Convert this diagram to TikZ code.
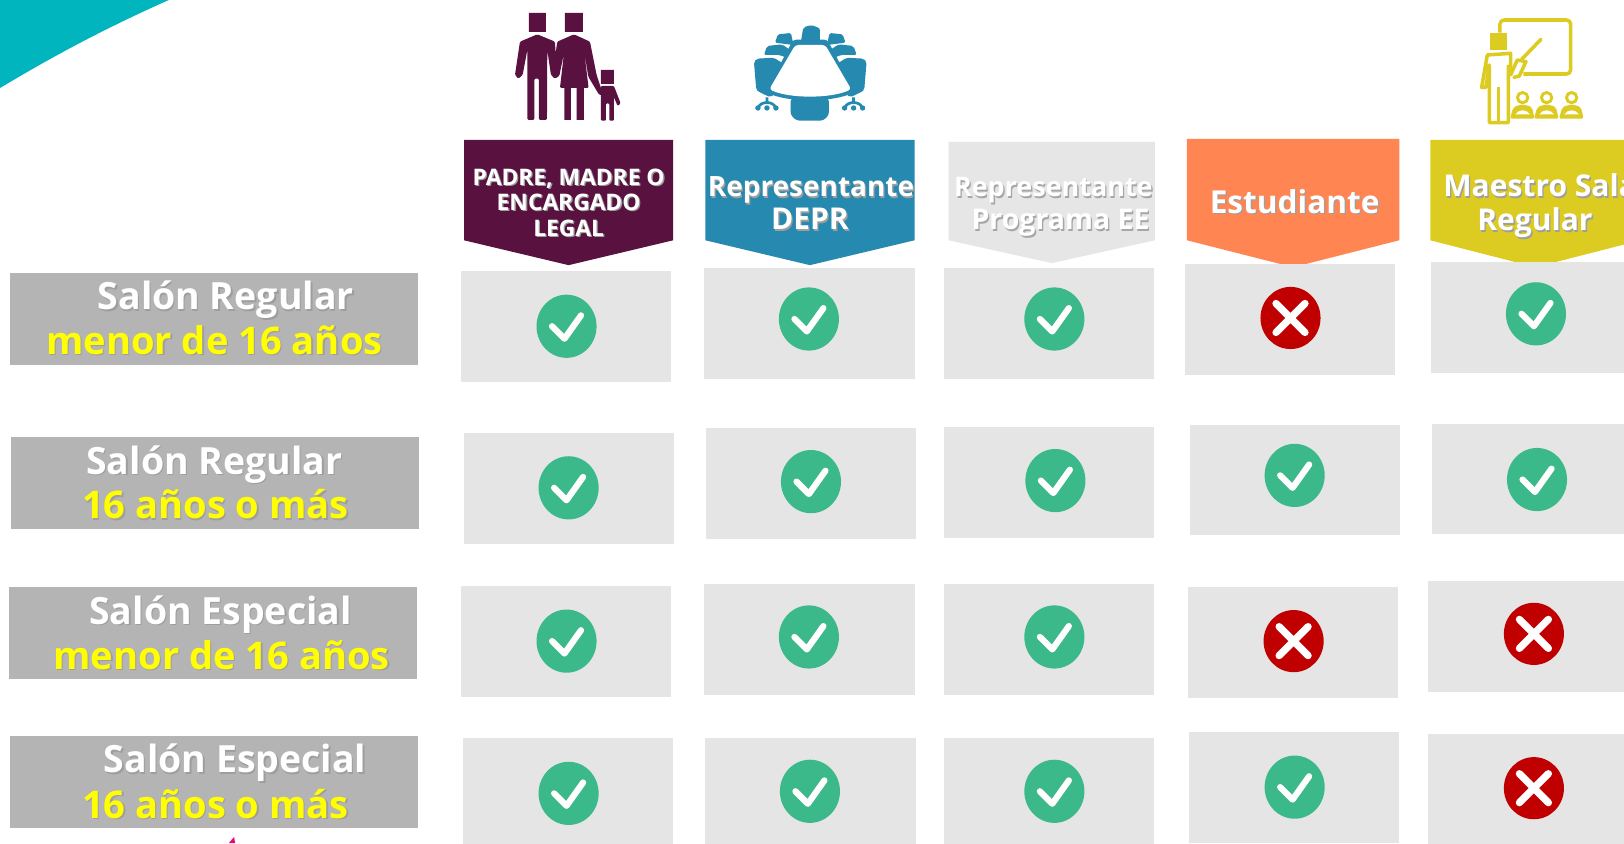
\documentclass[tikz,border=0pt]{standalone}
\usepackage{fontspec}
\setmainfont{Open Sans}
\definecolor{cellg}{HTML}{E5E5E5}
\definecolor{labg}{HTML}{B4B4B4}
\definecolor{okg}{HTML}{3CB98A}
\definecolor{nored}{HTML}{C00000}
\definecolor{plum}{HTML}{591140}
\definecolor{teald}{HTML}{2689AF}
\definecolor{orng}{HTML}{FF8552}
\definecolor{mustard}{HTML}{DCCB21}
\definecolor{hdrg}{HTML}{E6E6E6}
\definecolor{corner}{HTML}{00B5BD}
\definecolor{yel}{HTML}{FFFF00}
\newcommand{\sh}[2][black!38]{\leavevmode\rlap{\kern1.3pt\raisebox{-1.3pt}{\color{#1}#2}}#2}
\newcommand{\cell}[5]{\path[fill=cellg] (#2,#3) rectangle (#4,#5);}
\newcommand{\okmark}[3]{\node[okdot] (#1) at (#2,#3) {};
  \draw[white,line width=6pt,line cap=round,line join=round] ($(#1)+(-14,0)$) -- ($(#1)+(-2,12)$) -- ($(#1)+(14,-10.5)$);}
\newcommand{\nomark}[3]{\node[nodot] (#1) at (#2,#3) {};
  \draw[white,line width=7pt,line cap=round] ($(#1)+(-14,-14)$) -- ($(#1)+(14,14)$) ($(#1)+(-14,14)$) -- ($(#1)+(14,-14)$);}
\newcommand{\hdr}[5]{\path[fill=#1] (#2,#3) -- (#4,#3) -- (#4,232) -- ({(#2+#4)/2},#5) -- (#2,232) -- cycle;}
\usetikzlibrary{calc}
\usetikzlibrary{shapes.geometric}
\tikzset{
  okdot/.style={ellipse,fill=okg,minimum width=58pt,minimum height=61pt,inner sep=0pt},
  nodot/.style={ellipse,fill=nored,minimum width=58pt,minimum height=60pt,inner sep=0pt},
  hd/.style={inner sep=0pt,text=white,font=\bfseries\fontsize{29}{29}\selectfont,anchor=base},
  hdsm/.style={inner sep=0pt,text=white,font=\bfseries\fontsize{22}{22}\selectfont,anchor=base},
  labw/.style={inner sep=0pt,text=white,font=\bfseries\fontsize{36.2}{36}\selectfont,anchor=base},
  laby/.style={inner sep=0pt,text=yel,font=\bfseries\fontsize{36.8}{36}\selectfont,anchor=base},
  icz/.style={x=0.3218pt,y=-0.3218pt},
}
\begin{document}
\begin{tikzpicture}[x=1pt,y=-1pt]
\useasboundingbox (0,0) rectangle (1568,814);
\clip (0,0) rectangle (1568,814);
\fill[white] (0,0) rectangle (1568,814);
% corner
\fill[corner] (0,0) -- (163,0) .. controls (100,28) and (50,55) .. (0,85) -- cycle;
\fill[magenta!80!red] (226,808) -- (227,814) -- (221,814) -- cycle;
% headers
\hdr{plum}{448}{135}{650}{256}
\hdr{teald}{681}{135}{883}{256}
\hdr{hdrg}{916}{137}{1115}{254}
\hdr{orng}{1146}{134}{1351}{258}
\hdr{mustard}{1381}{135}{1584}{258}
% row labels
\foreach \a/\b/\c/\d in {10/264/404/352,11/422/405/511,9/567/403/656,10/711/404/799}
  \fill[labg] (\a,\b) rectangle (\c,\d);
% cells
\cell{a}{445}{262}{648}{369}\cell{a}{680}{259}{883}{366}\cell{a}{911}{259}{1114}{366}\cell{a}{1144}{255}{1347}{362}\cell{a}{1382}{253}{1585}{360}
\cell{a}{448}{418}{651}{525}\cell{a}{682}{413}{884}{520}\cell{a}{911}{412}{1114}{519}\cell{a}{1149}{410}{1352}{517}\cell{a}{1383}{409}{1586}{516}
\cell{a}{445}{566}{648}{673}\cell{a}{680}{564}{883}{671}\cell{a}{911}{564}{1114}{671}\cell{a}{1147}{567}{1350}{674}\cell{a}{1379}{561}{1582}{668}
\cell{a}{447}{713}{650}{820}\cell{a}{681}{713}{884}{820}\cell{a}{911}{713}{1114}{820}\cell{a}{1148}{707}{1351}{814}\cell{a}{1379}{709}{1582}{816}
% marks
\okmark{m11}{547}{315}\okmark{m12}{781}{308}\okmark{m13}{1018}{308}\nomark{m14}{1246}{307}\okmark{m15}{1483}{303}
\okmark{m21}{549}{471}\okmark{m22}{783}{465}\okmark{m23}{1019}{464}\okmark{m24}{1250}{459}\okmark{m25}{1484}{463}
\okmark{m31}{547}{619}\okmark{m32}{781}{615}\okmark{m33}{1018}{615}\nomark{m34}{1249}{619}\nomark{m35}{1481}{612}
\okmark{m41}{549}{766}\okmark{m42}{782}{764}\okmark{m43}{1018}{764}\okmark{m44}{1250}{760}\nomark{m45}{1481}{761}
% header text
\node[hdsm] (h1a) at (549,179) {\sh{PADRE, MADRE O}};
\node[hdsm] (h1b) at (549,203) {\sh{ENCARGADO}};
\node[hdsm] (h1c) at (549,228) {\sh{LEGAL}};
\node[hd,font=\bfseries\fontsize{27}{27}\selectfont] (h2a) at (783,190) {\sh{Representante}};
\node[hd] (h2b) at (782,222) {\sh{DEPR}};
\node[hd,font=\bfseries\fontsize{26}{26}\selectfont] (h3a) at (1017,190) {\sh[black!35]{Representante}};
\node[hd,font=\bfseries\fontsize{27.5}{27}\selectfont] (h3b) at (1024,222) {\sh[black!35]{Programa EE}};
\node[hd,font=\bfseries\fontsize{30.5}{31}\selectfont] (h4) at (1250,206) {\sh{Estudiante}};
\node[hd] (h5a) at (1487,190) {\sh{Maestro Sala}};
\node[hd] (h5b) at (1482,223) {\sh{Regular}};
% label text
\node[labw] (l1a) at (218,299) {\sh{Salón Regular}};
\node[laby] (l1b) at (207,342) {\sh{menor de 16 años}};
\node[labw] (l2a) at (207,458) {\sh{Salón Regular}};
\node[laby] (l2b) at (208,501) {\sh{16 años o más}};
\node[labw] (l3a) at (213,603) {\sh{Salón Especial}};
\node[laby] (l3b) at (214,646) {\sh{menor de 16 años}};
\node[labw] (l4a) at (227,746) {\sh{Salón Especial}};
\node[laby] (l4b) at (208,790) {\sh{16 años o más}};
% family icon
\begin{scope}[shift={(424.8pt,0pt)},icz]
\fill[plum] (267,39) rectangle (318,96) (375,39) rectangle (429,96) (483,210) rectangle (522,252);
\fill[plum,rounded corners=1.2pt] (262,360) -- (262,150) -- (248,225) -- (235,236) -- (225,225) -- (240,125) -- (292,103) -- (345,125) -- (347,160) -- (352,125) -- (402,103) -- (450,125) -- (470,225) -- (490,285) -- (478,285) -- (445,230) -- (432,150) -- (446,264) -- (360,264) -- (372,160) -- (358,228) -- (345,236) -- (333,225) -- (322,150) -- (321,360) -- (297,360) -- (297,236) -- (283,236) -- (283,360) -- cycle;
\fill[plum] (373,260) rectangle (393,360) (410,260) rectangle (432,360);
\fill[plum,rounded corners=1pt] (483,362) -- (483,258) -- (522,258) -- (542,310) -- (533,318) -- (522,292) -- (522,362) -- (508,362) -- (508,310) -- (498,310) -- (498,362) -- cycle;
\end{scope}
% conference icon
\begin{scope}[shift={(424.8pt,0pt)},icz]
\fill[teald,rounded corners=2pt] (1083,125) -- (1090,82) -- (1115,75) -- (1140,85) -- (1140,125) -- cycle;
\foreach \m in {1,-1}{
\begin{scope}[shift={(1111,0)},xscale=\m]
\fill[teald,rounded corners=1.5pt] (-106,128) -- (-97,103) -- (-58,99) -- (-50,135) -- cycle;
\fill[teald,rounded corners=2pt] (-139,165) -- (-130,138) -- (-85,133) -- (-60,150) -- (-70,175) -- (-90,165) -- cycle;
\fill[teald,rounded corners=2pt] (-169,185) -- (-160,176) -- (-108,173) -- (-100,180) -- (-60,200) -- (-110,285) -- (-120,292) -- (-155,275) -- (-162,270) -- cycle;
\draw[teald,line width=2.6pt] (-130,292) -- (-130,308) (-155,322) .. controls (-150,303) and (-110,303) .. (-105,322);
\fill[teald] (-157,324) circle (2.6pt) (-130,324) circle (2.6pt) (-103,324) circle (2.6pt);
\end{scope}}
\fill[teald,rounded corners=3pt] (1052,295) -- (1167,295) -- (1167,345) -- (1150,362) -- (1070,362) -- (1052,345) -- cycle;
\fill[teald,rounded corners=3pt] (1060,119) -- (1162,119) -- (1245,275) .. controls (1180,308) and (1040,308) .. (977,275) -- cycle;
\fill[white,rounded corners=3pt] (1066,135) -- (1156,135) -- (1234,268) .. controls (1170,296) and (1050,296) .. (988,268) -- cycle;
\end{scope}
% teacher icon
\begin{scope}[shift={(1351.7pt,0pt)},icz]
\draw[mustard,line width=3.4pt,rounded corners=4pt,line join=round] (300,98) -- (300,60) -- (512,60) -- (512,222) -- (370,222);
\fill[mustard] (270,98) rectangle (320,150);
\draw[mustard,line width=3.4pt,line cap=round] (423,118) -- (365,178);
\draw[mustard,line width=3.4pt,line cap=round,line join=round] (342,232) -- (358,228) -- (378,185) -- (352,180) -- (332,225);
\draw[mustard,line width=3.4pt,line join=round] (332,220) -- (332,160) -- (262,165) -- (245,262) -- (258,262) -- (268,195) -- (268,368) -- (325,368) -- (325,195);
\draw[mustard,line width=2.8pt] (296,260) -- (296,368);
\foreach \cx in {368,440,515}{
\draw[mustard,line width=2.8pt] (\cx,293) circle (5pt);
\fill[mustard,rounded corners=2pt] (\cx-38,356) -- (\cx-28,322) -- (\cx-12,315) -- (\cx+12,315) -- (\cx+28,322) -- (\cx+36,356) -- cycle;
\fill[white] (\cx-22,343) .. controls (\cx-10,327) and (\cx+10,327) .. (\cx+22,343) -- cycle;
}
\end{scope}
\end{tikzpicture}
\end{document}
